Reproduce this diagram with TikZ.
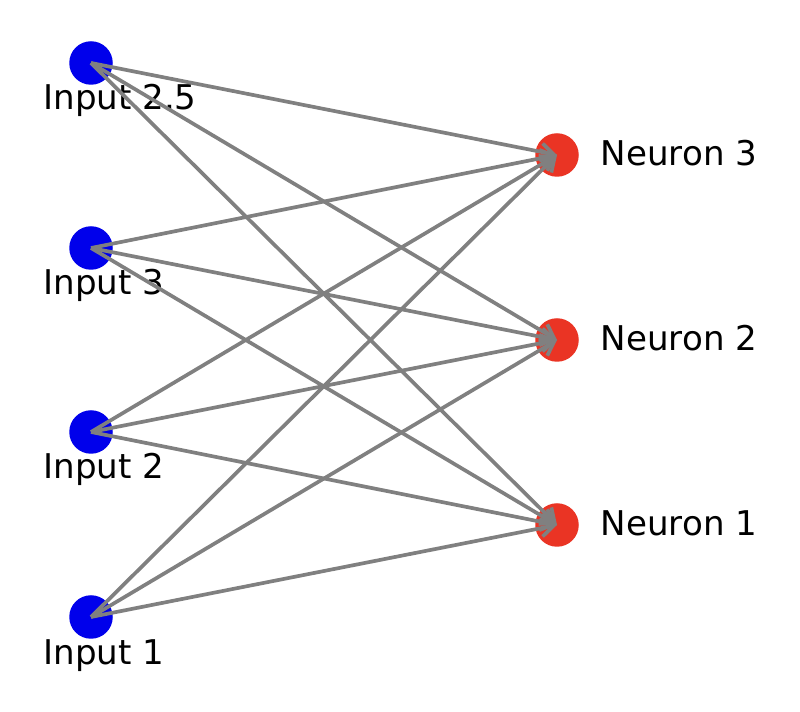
\documentclass[tikz,border=0pt]{standalone}
\usepackage{fontspec}
\setmainfont{DejaVu Sans}
\usetikzlibrary{arrows.meta}
\definecolor{inblue}{RGB}{0,0,235}
\definecolor{neured}{RGB}{234,52,36}
\definecolor{edgegray}{RGB}{128,128,128}
\tikzset{
  inputnode/.style={circle,fill=inblue,minimum size=0.87cm,inner sep=0pt},
  neuronnode/.style={circle,fill=neured,minimum size=0.87cm,inner sep=0pt},
  nodelabel/.style={anchor=base west,inner sep=0pt,font=\fontsize{19.4}{22}\selectfont},
  weight/.style={draw=edgegray,line width=2.1pt,-{Straight Barb[length=0.26cm,width=0.34cm]}}
}
\begin{document}
\begin{tikzpicture}
\useasboundingbox (0,0) rectangle (16,14.24);
% input layer
\node[inputnode] (in4) at (1.82,12.98) {};
\node[inputnode] (in3) at (1.82,9.28) {};
\node[inputnode] (in2) at (1.82,5.60) {};
\node[inputnode] (in1) at (1.82,1.90) {};
\node[nodelabel] (lin4) at (0.86,12.05) {Input 2.5};
\node[nodelabel] (lin3) at (0.86,8.35) {Input 3};
\node[nodelabel] (lin2) at (0.86,4.67) {Input 2};
\node[nodelabel] (lin1) at (0.86,0.95) {Input 1};
% output layer
\node[neuronnode] (out3) at (11.14,11.14) {};
\node[neuronnode] (out2) at (11.14,7.44) {};
\node[neuronnode] (out1) at (11.14,3.74) {};
\node[nodelabel] (lout3) at (12.01,10.93) {Neuron 3};
\node[nodelabel] (lout2) at (12.01,7.23) {Neuron 2};
\node[nodelabel] (lout1) at (12.01,3.53) {Neuron 1};
% connections
\foreach \i in {1,...,4}
  \foreach \j in {1,2,3}
    \draw[weight] (in\i.center) -- (out\j.center);
\end{tikzpicture}
\end{document}
